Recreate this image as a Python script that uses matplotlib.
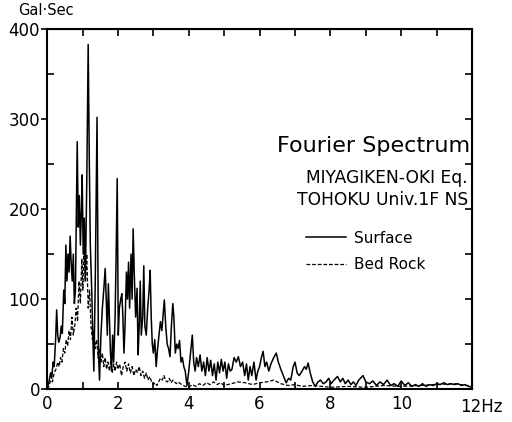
import matplotlib
matplotlib.use("Agg")
import matplotlib.pyplot as plt
import matplotlib.transforms as mtransforms

# Fourier spectrum (Hz, Gal*sec)
surf_f = [0.00, 0.05, 0.10, 0.13, 0.17, 0.20, 0.24, 0.27, 0.30, 0.33, 0.37, 0.40, 0.43, 0.47,
          0.50, 0.53, 0.56, 0.59, 0.62, 0.65, 0.68, 0.71, 0.74, 0.77, 0.80, 0.85, 0.88, 0.91,
          0.94, 0.97, 0.99, 1.02, 1.05, 1.08, 1.12, 1.16, 1.19, 1.22, 1.26, 1.29, 1.32, 1.36,
          1.41, 1.45, 1.48, 1.52, 1.56, 1.60, 1.64, 1.67, 1.70, 1.73, 1.76, 1.79, 1.82, 1.85,
          1.88, 1.92, 1.95, 1.98, 2.01, 2.04, 2.08, 2.11, 2.14, 2.17, 2.20, 2.24, 2.27, 2.30,
          2.33, 2.37, 2.40, 2.43, 2.46, 2.50, 2.54, 2.57, 2.60, 2.63, 2.66, 2.70, 2.73, 2.76,
          2.80, 2.84, 2.88, 2.91, 2.94, 2.97, 3.00, 3.04, 3.08, 3.12, 3.16, 3.20, 3.24, 3.28,
          3.31, 3.35, 3.39, 3.43, 3.47, 3.51, 3.55, 3.58, 3.62, 3.66, 3.70, 3.74, 3.78, 3.82,
          3.86, 3.90, 3.95, 4.00, 4.05, 4.10, 4.14, 4.18, 4.22, 4.27, 4.32, 4.37, 4.42, 4.47,
          4.52, 4.57, 4.62, 4.67, 4.72, 4.77, 4.82, 4.87, 4.92, 4.97, 5.02, 5.07, 5.12, 5.17,
          5.22, 5.28, 5.34, 5.40, 5.46, 5.52, 5.58, 5.63, 5.68, 5.73, 5.78, 5.84, 5.90, 5.95,
          6.00, 6.05, 6.10, 6.15, 6.20, 6.26, 6.32, 6.40, 6.47, 6.53, 6.60, 6.67, 6.75, 6.82,
          6.88, 6.95, 7.00, 7.06, 7.12, 7.20, 7.27, 7.32, 7.37, 7.43, 7.50, 7.57, 7.65, 7.72,
          7.80, 7.88, 7.95, 8.02, 8.10, 8.20, 8.28, 8.35, 8.42, 8.50, 8.58, 8.65, 8.72, 8.80,
          8.92, 9.00, 9.10, 9.20, 9.30, 9.40, 9.50, 9.60, 9.70, 9.80, 9.90, 10.0, 10.1, 10.2,
          10.3, 10.4, 10.5, 10.6, 10.7, 10.8, 10.9, 11.0, 11.1, 11.2, 11.3, 11.4, 11.5, 11.6,
          11.7, 11.8, 11.9, 12.0]
surf_v = [0, 8, 18, 12, 30, 25, 55, 88, 60, 52, 58, 70, 62, 110,
          95, 160, 120, 150, 130, 170, 140, 120, 150, 95, 110, 275, 180, 215,
          160, 200, 238, 150, 190, 120, 230, 383, 260, 160, 110, 60, 20, 120,
          302, 40, 10, 60, 90, 110, 134, 100, 60, 117, 80, 40, 20, 60,
          30, 80, 150, 234, 60, 90, 100, 106, 80, 40, 70, 130, 100, 141,
          90, 150, 100, 178, 130, 80, 112, 38, 70, 120, 60, 80, 137, 70,
          60, 90, 110, 132, 80, 50, 40, 55, 25, 45, 60, 75, 65, 85,
          99, 70, 50, 45, 36, 70, 95, 80, 40, 50, 45, 54, 30, 35,
          25, 20, 4, 20, 40, 60, 30, 20, 35, 25, 38, 20, 30, 15,
          35, 20, 32, 15, 28, 10, 30, 18, 33, 20, 30, 12, 28, 20,
          22, 35, 30, 36, 25, 30, 15, 28, 10, 25, 15, 30, 10, 20,
          25, 35, 42, 25, 30, 20, 28, 35, 40, 30, 22, 15, 7, 12,
          10, 25, 30, 18, 15, 20, 25, 22, 29, 18, 8, 3, 8, 10,
          6, 8, 12, 6, 10, 14, 8, 12, 6, 10, 5, 8, 4, 10,
          15, 8, 6, 9, 4, 8, 5, 10, 4, 6, 3, 9, 4, 7,
          3, 5, 3, 6, 3, 5, 4, 6, 5, 7, 5, 6, 5, 6,
          4, 5, 3, 2]

rock_f = [0.00, 0.05, 0.10, 0.15, 0.20, 0.25, 0.30, 0.34, 0.38, 0.42, 0.46, 0.50, 0.54, 0.58,
          0.62, 0.66, 0.70, 0.74, 0.78, 0.82, 0.86, 0.90, 0.94, 0.98, 1.01, 1.04, 1.08, 1.12,
          1.16, 1.20, 1.24, 1.28, 1.32, 1.36, 1.40, 1.44, 1.48, 1.52, 1.56, 1.60, 1.64, 1.68,
          1.72, 1.76, 1.80, 1.84, 1.88, 1.92, 1.96, 2.00, 2.05, 2.10, 2.15, 2.20, 2.25, 2.30,
          2.35, 2.40, 2.45, 2.50, 2.55, 2.60, 2.65, 2.70, 2.75, 2.80, 2.85, 2.90, 2.95, 3.00,
          3.05, 3.10, 3.15, 3.20, 3.25, 3.30, 3.35, 3.40, 3.45, 3.50, 3.55, 3.60, 3.65, 3.70,
          3.80, 3.90, 4.00, 4.10, 4.20, 4.30, 4.40, 4.50, 4.60, 4.70, 4.80, 4.90, 5.00, 5.20,
          5.40, 5.60, 5.80, 6.00, 6.20, 6.40, 6.60, 6.80, 7.00, 7.20, 7.50, 8.00, 8.50, 9.00,
          9.50, 10.0, 10.5, 11.0, 11.5, 12.0]
rock_v = [0, 3, 10, 8, 18, 22, 30, 25, 35, 30, 45, 40, 55, 48,
          65, 55, 80, 60, 70, 90, 75, 120, 95, 145, 110, 160, 120, 150,
          90, 110, 70, 55, 65, 45, 55, 35, 45, 30, 40, 25, 35, 22,
          30, 20, 32, 18, 28, 20, 30, 22, 28, 15, 25, 30, 20, 28,
          18, 25, 15, 22, 18, 25, 15, 20, 12, 18, 10, 14, 8, 5,
          7, 4, 8, 12, 10, 15, 9, 8, 12, 7, 10, 8, 6, 8,
          5, 3, 2, 5, 3, 6, 4, 7, 5, 8, 5, 7, 4, 6,
          8, 7, 5, 7, 8, 10, 6, 4, 5, 3, 4, 2, 3, 2,
          4, 3, 4, 5, 6, 3]

x_major = [0, 2, 4, 6, 8, 10]
x_labels = ["0", "2", "4", "6", "8", "10"]
y_major = [0, 100, 200, 300, 400]

fig = plt.figure(figsize=(5.12, 4.22), dpi=100)
ax = fig.add_axes([0.092, 0.078, 0.830, 0.853])

ax.plot(surf_f, surf_v, color="black", lw=1.1, label="Surface")
ax.plot(rock_f, rock_v, color="black", lw=0.9, ls=(0, (3, 1.5)), label="Bed Rock")

ax.set_xlim(0, 12)
ax.set_ylim(0, 400)
ax.set_xticks(x_major)
ax.set_xticklabels(x_labels)
ax.set_xticks(range(0, 13), minor=True)
ax.set_yticks(y_major)
ax.set_yticks(range(0, 401, 50), minor=True)
ax.tick_params(axis="both", which="major", labelsize=12, width=1.2, length=4)
ax.tick_params(axis="y", which="major", direction="out", pad=1)
ax.tick_params(axis="x", which="major", direction="in", length=5, pad=4)
ax.tick_params(which="minor", direction="in", length=5, width=1.2)
for s in ax.spines.values():
    s.set_linewidth(1.5)

# inward ticks on the top and right frame
top = ax.secondary_xaxis("top")
top.set_xticks(range(0, 13))
top.tick_params(direction="in", length=5, width=1.2, labeltop=False)
right = ax.secondary_yaxis("right")
right.set_yticks(range(0, 401, 50))
right.tick_params(direction="in", length=5, width=1.2, labelright=False)

# the "12Hz" end label of the frequency axis
trans = mtransforms.blended_transform_factory(ax.transData, ax.transAxes)
ax.text(12.27, -0.025, "12Hz", transform=trans, ha="center", va="top",
        fontsize=12, clip_on=False)

fig.text(0.035, 0.993, "Gal·Sec", ha="left", va="top", fontsize=10.5)

ax.text(0.995, 0.676, "Fourier Spectrum", transform=ax.transAxes,
        ha="right", va="center", fontsize=16)
ax.text(0.99, 0.587, "MIYAGIKEN-OKI Eq.", transform=ax.transAxes,
        ha="right", va="center", fontsize=12.3)
ax.text(0.99, 0.526, "TOHOKU Univ.1F NS", transform=ax.transAxes,
        ha="right", va="center", fontsize=12.3)

ax.legend(loc="upper left", bbox_to_anchor=(0.61, 0.44), frameon=False,
          fontsize=11, handlelength=2.6, handletextpad=0.5, labelspacing=0.75,
          borderpad=0, borderaxespad=0)

fig.savefig("out.png", dpi=100)
